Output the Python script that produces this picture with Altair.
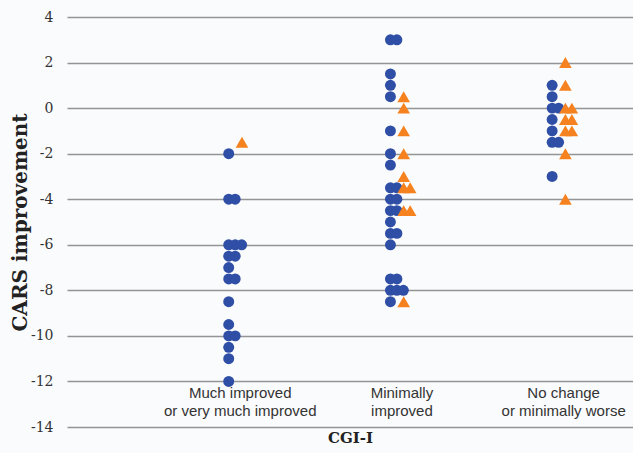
import altair as alt
import pandas as pd

groups = ["Much improved|or very much improved", "Minimally|improved", "No change|or minimally worse"]

# circle values per group
circles_g1 = [-2, -4, -4, -6, -6, -6, -6.5, -6.5, -7, -7.5, -7.5, -8.5, -9.5, -10, -10, -10.5, -11, -12]
circles_g2 = [3, 3, 1.5, 1, 0.5, -1, -2, -2.5, -3.5, -3.5, -4, -4, -4.5, -4.5, -5, -5.5, -5.5, -6,
              -7.5, -7.5, -8, -8, -8, -8.5]
circles_g3 = [1, 0.5, 0, 0, -0.5, -1, -1.5, -1.5, -3]

# triangle values per group
triangles_g1 = [-1.5]
triangles_g2 = [0.5, 0, -1, -2, -3, -3.5, -3.5, -4.5, -4.5, -8.5]
triangles_g3 = [2, 1, 0, 0, -0.5, -0.5, -1, -1, -2, -4]

y_ticks = [4, 2, 0, -2, -4, -6, -8, -10, -12, -14]

rows = []
for gi, (c, t) in enumerate([(circles_g1, triangles_g1), (circles_g2, triangles_g2), (circles_g3, triangles_g3)], start=1):
    for v in c:
        rows.append({"group": gi, "value": v, "kind": "circle"})
    for v in t:
        rows.append({"group": gi, "value": v, "kind": "triangle"})
df = pd.DataFrame(rows)

base = alt.Chart(df).transform_window(
    rank="row_number()", groupby=["group", "value", "kind"]
).transform_calculate(
    xpos="datum.group + (datum.kind == 'triangle' ? 0.082 : 0) + (datum.rank - 1) * 0.04"
)

label_expr = "split(['', '" + "', '".join(groups) + "'][datum.value], '|')"

x_enc = alt.X(
    "xpos:Q",
    scale=alt.Scale(domain=[0, 3.5], nice=False, zero=False),
    axis=alt.Axis(
        values=[1, 2, 3], labelExpr=label_expr, grid=False, domain=False, ticks=False,
        labelFont="Liberation Sans", labelFontSize=15, labelColor="#333333",
        labelOffset=11, labelLineHeight=18, offset=-42, labelPadding=0,
        title="CGI-I", titleFont="DejaVu Serif", titleFontSize=15, titleFontWeight="bold",
        titleColor="#222222", titlePadding=12,
    ),
)
y_enc = alt.Y(
    "value:Q",
    scale=alt.Scale(domain=[-14, 4], nice=False, zero=False),
    axis=alt.Axis(
        values=y_ticks, grid=True, gridColor="#949494", gridWidth=1.6, domain=False, ticks=False,
        labelExpr="toString(datum.value)",
        labelFont="DejaVu Serif", labelFontSize=14, labelColor="#333333", labelPadding=14,
        title="CARS improvement", titleFont="DejaVu Serif", titleFontSize=20, titleFontWeight="bold",
        titleColor="#222222", titleX=-41, titleBaseline="alphabetic",
    ),
)

circles = base.transform_filter("datum.kind == 'circle'").mark_point(
    shape="circle", filled=True, size=120, opacity=1, color="#2f4ea5"
).encode(x=x_enc, y=y_enc)

triangles = base.transform_filter("datum.kind == 'triangle'").mark_point(
    shape="triangle-up", filled=True, size=160, opacity=1, color="#f5821f"
).encode(x=x_enc, y=y_enc)

chart = alt.layer(circles, triangles).properties(
    width=566, height=410,
    padding={"left": 67, "top": 17, "right": 0, "bottom": 26},
    autosize=alt.AutoSizeParams(type="none"),
    background="#fafbfc",
).configure_view(stroke=None)

chart.save("out.html", embed_options={"renderer": "svg", "actions": False})
